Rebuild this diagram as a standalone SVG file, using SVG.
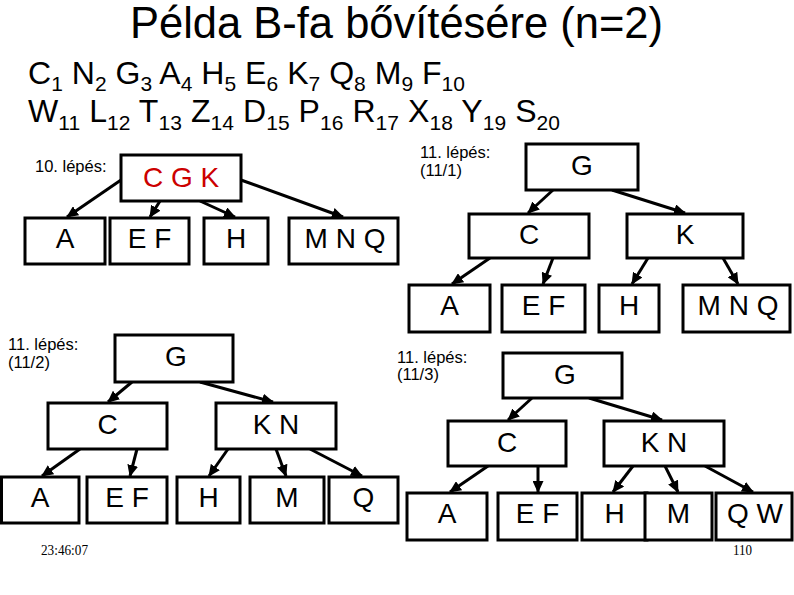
<svg xmlns="http://www.w3.org/2000/svg" width="794" height="595" viewBox="0 0 794 595">
<defs>
<style>
text{font-family:"Liberation Sans",Arial,sans-serif;fill:#000}
.box{fill:#fff;stroke:#000;stroke-width:3}
.lbl{font-size:28px;text-anchor:middle}
.red{fill:#cc0000}
.step{font-size:16.5px}
.big{font-size:32px}
.sub{font-size:21px}
.foot{font-family:"Liberation Serif","Times New Roman",serif;font-size:14px}
.con line{stroke:#000;stroke-width:3;marker-end:url(#ah)}
</style>
<marker id="ah" markerUnits="userSpaceOnUse" markerWidth="12" markerHeight="11" viewBox="0 0 12 11" refX="11" refY="5.5" orient="auto">
<path d="M0,0 L12,5.5 L0,11 z" fill="#000"/>
</marker>
</defs>
<rect width="794" height="595" fill="#fff"/>

<text x="130" y="38" font-size="43.5" textLength="533" lengthAdjust="spacingAndGlyphs">Példa B-fa bővítésére (n=2)</text>
<text x="28" y="84" class="big" xml:space="preserve" textLength="437" lengthAdjust="spacing">C<tspan class="sub" dy="7">1</tspan><tspan dy="-7"> N</tspan><tspan class="sub" dy="7">2</tspan><tspan dy="-7"> G</tspan><tspan class="sub" dy="7">3</tspan><tspan dy="-7"> A</tspan><tspan class="sub" dy="7">4</tspan><tspan dy="-7"> H</tspan><tspan class="sub" dy="7">5</tspan><tspan dy="-7"> E</tspan><tspan class="sub" dy="7">6</tspan><tspan dy="-7"> K</tspan><tspan class="sub" dy="7">7</tspan><tspan dy="-7"> Q</tspan><tspan class="sub" dy="7">8</tspan><tspan dy="-7"> M</tspan><tspan class="sub" dy="7">9</tspan><tspan dy="-7"> F</tspan><tspan class="sub" dy="7">10</tspan></text>
<text x="28" y="122" class="big" xml:space="preserve" textLength="532" lengthAdjust="spacing">W<tspan class="sub" dy="8">11</tspan><tspan dy="-8"> L</tspan><tspan class="sub" dy="8">12</tspan><tspan dy="-8"> T</tspan><tspan class="sub" dy="8">13</tspan><tspan dy="-8"> Z</tspan><tspan class="sub" dy="8">14</tspan><tspan dy="-8"> D</tspan><tspan class="sub" dy="8">15</tspan><tspan dy="-8"> P</tspan><tspan class="sub" dy="8">16</tspan><tspan dy="-8"> R</tspan><tspan class="sub" dy="8">17</tspan><tspan dy="-8"> X</tspan><tspan class="sub" dy="8">18</tspan><tspan dy="-8"> Y</tspan><tspan class="sub" dy="8">19</tspan><tspan dy="-8"> S</tspan><tspan class="sub" dy="8">20</tspan></text>

<text x="35" y="172" class="step">10. lépés:</text>
<text x="420" y="158" class="step">11. lépés:</text>
<text x="420" y="176" class="step">(11/1)</text>
<text x="8" y="350" class="step">11. lépés:</text>
<text x="8" y="368" class="step">(11/2)</text>
<text x="397" y="363" class="step">11. lépés:</text>
<text x="397" y="380" class="step">(11/3)</text>

<g id="connectors" class="con">
<line x1="121" y1="180" x2="67" y2="217"/>
<line x1="160" y1="201" x2="150" y2="217"/>
<line x1="200" y1="201" x2="235" y2="217"/>
<line x1="241" y1="180" x2="343" y2="217"/>

<line x1="553" y1="190" x2="528" y2="213"/>
<line x1="612" y1="190" x2="685" y2="213"/>
<line x1="490" y1="258" x2="452" y2="284"/>
<line x1="553" y1="258" x2="543" y2="284"/>
<line x1="648" y1="258" x2="632" y2="284"/>
<line x1="723" y1="258" x2="738" y2="284"/>

<line x1="132" y1="382" x2="108" y2="402"/>
<line x1="200" y1="382" x2="273" y2="402"/>
<line x1="80" y1="449" x2="42" y2="476"/>
<line x1="137" y1="449" x2="130" y2="476"/>
<line x1="228" y1="449" x2="209" y2="476"/>
<line x1="276" y1="449" x2="286" y2="476"/>
<line x1="310" y1="449" x2="362" y2="476"/>

<line x1="532" y1="398" x2="508" y2="420"/>
<line x1="589" y1="398" x2="662" y2="420"/>
<line x1="488" y1="466" x2="450" y2="492"/>
<line x1="538" y1="466" x2="538" y2="492"/>
<line x1="633" y1="466" x2="613" y2="492"/>
<line x1="665" y1="466" x2="678" y2="492"/>
<line x1="705" y1="466" x2="753" y2="492"/>
</g>

<g id="s10-CGK"><rect class="box" x="121" y="155" width="120" height="46"/><text class="lbl red" x="181" y="187">C G K</text></g>
<g id="s10-A"><rect class="box" x="25" y="218" width="80" height="46"/><text class="lbl" x="65" y="248">A</text></g>
<g id="s10-EF"><rect class="box" x="110" y="218" width="79" height="46"/><text class="lbl" x="149.5" y="248">E F</text></g>
<g id="s10-H"><rect class="box" x="204" y="218" width="64" height="46"/><text class="lbl" x="236" y="248">H</text></g>
<g id="s10-MNQ"><rect class="box" x="289" y="218" width="109" height="46"/><text class="lbl" x="345" y="248">M N Q</text></g>

<g id="s111-G"><rect class="box" x="526" y="144" width="112" height="46"/><text class="lbl" x="582" y="175">G</text></g>
<g id="s111-C"><rect class="box" x="469" y="214" width="120" height="44"/><text class="lbl" x="529" y="244">C</text></g>
<g id="s111-K"><rect class="box" x="627" y="214" width="116" height="44"/><text class="lbl" x="685" y="244">K</text></g>
<g id="s111-A"><rect class="box" x="409" y="285" width="81" height="47"/><text class="lbl" x="449.5" y="315">A</text></g>
<g id="s111-EF"><rect class="box" x="502" y="285" width="83" height="47"/><text class="lbl" x="543.5" y="315">E F</text></g>
<g id="s111-H"><rect class="box" x="599" y="285" width="60" height="47"/><text class="lbl" x="629" y="315">H</text></g>
<g id="s111-MNQ"><rect class="box" x="683" y="285" width="107" height="47"/><text class="lbl" x="738" y="315">M N Q</text></g>

<g id="s112-G"><rect class="box" x="115" y="335" width="118" height="47"/><text class="lbl" x="176" y="366">G</text></g>
<g id="s112-C"><rect class="box" x="48" y="403" width="119" height="46"/><text class="lbl" x="107.5" y="434">C</text></g>
<g id="s112-KN"><rect class="box" x="216" y="403" width="120" height="46"/><text class="lbl" x="276" y="434">K N</text></g>
<g id="s112-A"><rect class="box" x="1.5" y="477" width="77.5" height="46"/><text class="lbl" x="40" y="507">A</text></g>
<g id="s112-EF"><rect class="box" x="87" y="477" width="80" height="46"/><text class="lbl" x="127" y="507">E F</text></g>
<g id="s112-H"><rect class="box" x="177" y="477" width="63" height="46"/><text class="lbl" x="208.5" y="507">H</text></g>
<g id="s112-M"><rect class="box" x="250" y="477" width="74" height="46"/><text class="lbl" x="287" y="507">M</text></g>
<g id="s112-Q"><rect class="box" x="329" y="477" width="69" height="46"/><text class="lbl" x="363.5" y="507">Q</text></g>

<g id="s113-G"><rect class="box" x="503" y="353" width="119" height="45"/><text class="lbl" x="565" y="384">G</text></g>
<g id="s113-C"><rect class="box" x="448" y="421" width="118" height="45"/><text class="lbl" x="507" y="452">C</text></g>
<g id="s113-KN"><rect class="box" x="604" y="421" width="120" height="45"/><text class="lbl" x="664" y="452">K N</text></g>
<g id="s113-A"><rect class="box" x="407" y="493" width="80" height="47"/><text class="lbl" x="447" y="523">A</text></g>
<g id="s113-EF"><rect class="box" x="498" y="493" width="79" height="47"/><text class="lbl" x="537.5" y="523">E F</text></g>
<g id="s113-H"><rect class="box" x="582" y="493" width="65" height="47"/><text class="lbl" x="614.5" y="523">H</text></g>
<g id="s113-M"><rect class="box" x="645" y="493" width="67" height="47"/><text class="lbl" x="678.5" y="523">M</text></g>
<g id="s113-QW"><rect class="box" x="716" y="493" width="76" height="47"/><text class="lbl" x="755" y="523">Q W</text></g>

<text x="41" y="555" class="foot" textLength="47" lengthAdjust="spacingAndGlyphs">23:46:07</text>
<text x="733" y="555" class="foot" textLength="19" lengthAdjust="spacingAndGlyphs">110</text>
</svg>
